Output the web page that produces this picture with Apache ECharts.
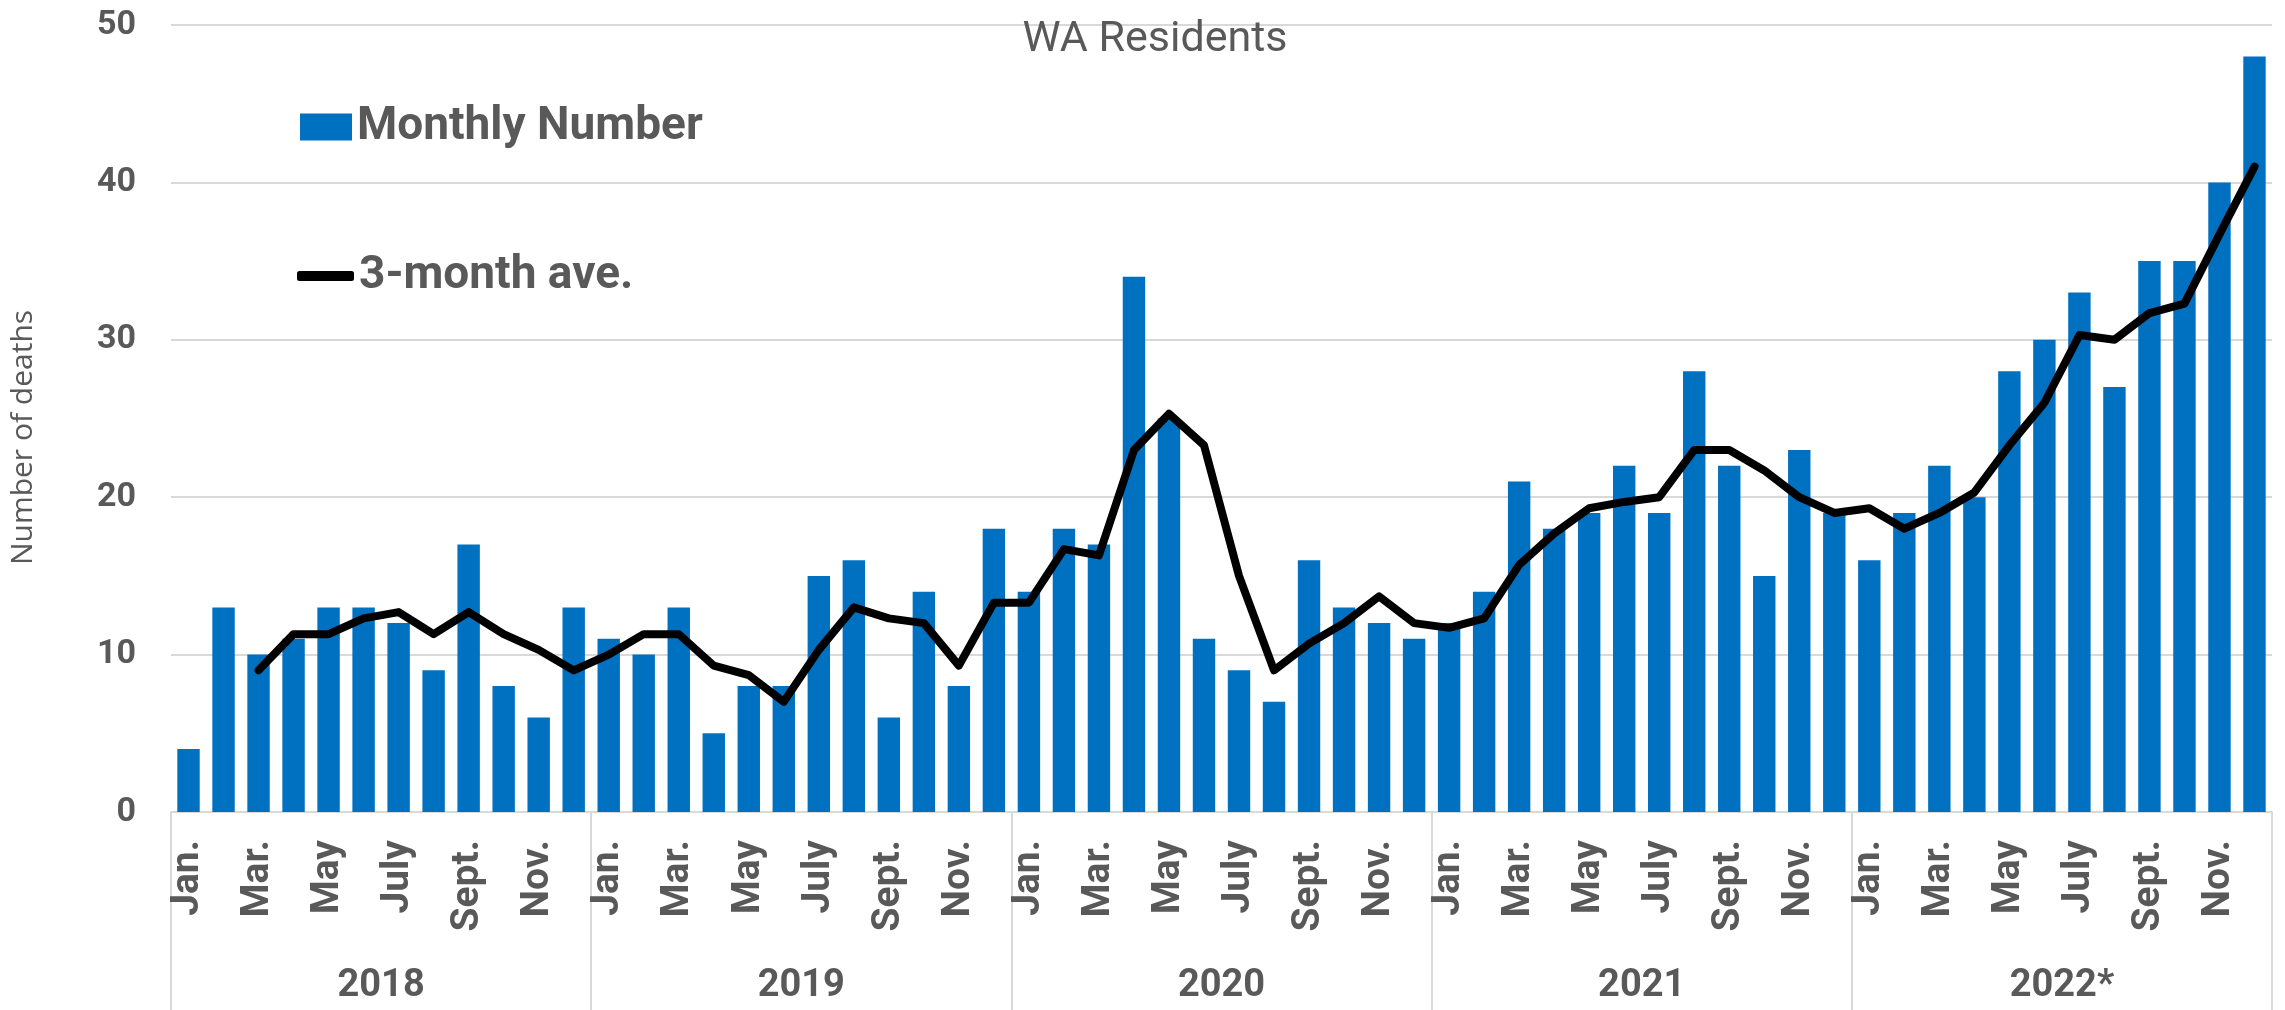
<!DOCTYPE html>
<html>
<head>
<meta charset="utf-8">
<title>WA Residents</title>
<script src="https://cdn.jsdelivr.net/npm/echarts@6/dist/echarts.min.js"></script>
<style>
html, body { margin: 0; padding: 0; background: #fff; }
#chart { width: 2285px; height: 1010px; }
</style>
</head>
<body>
<div id="chart"></div>
<script>
// 数据
var monthNames = ['Jan.', 'Feb.', 'Mar.', 'Apr.', 'May', 'June', 'July', 'Aug.', 'Sept.', 'Oct.', 'Nov.', 'Dec.'];
var years = ['2018', '2019', '2020', '2021', '2022*'];

var monthly2018 = [4, 13, 10, 11, 13, 13, 12, 9, 17, 8, 6, 13];
var monthly2019 = [11, 10, 13, 5, 8, 8, 15, 16, 6, 14, 8, 18];
var monthly2020 = [14, 18, 17, 34, 25, 11, 9, 7, 16, 13, 12, 11];
var monthly2021 = [12, 14, 21, 18, 19, 22, 19, 28, 22, 15, 23, 19];
var monthly2022 = [16, 19, 22, 20, 28, 30, 33, 27, 35, 35, 40, 48];

var ave2018 = ['-', '-', 9, 11.3, 11.3, 12.3, 12.7, 11.3, 12.7, 11.3, 10.3, 9];
var ave2019 = [10, 11.3, 11.3, 9.3, 8.7, 7, 10.3, 13, 12.3, 12, 9.3, 13.3];
var ave2020 = [13.3, 16.7, 16.3, 23, 25.3, 23.3, 15, 9, 10.7, 12, 13.7, 12];
var ave2021 = [11.7, 12.3, 15.7, 17.7, 19.3, 19.7, 20, 23, 23, 21.7, 20, 19];
var ave2022 = [19.3, 18, 19, 20.3, 23.3, 26, 30.3, 30, 31.7, 32.3, 36.7, 41];

var yTicks = [0, 10, 20, 30, 40, 50];

(function(){

var chart = echarts.init(document.getElementById('chart'));

var months = [];
years.forEach(function(){ months = months.concat(monthNames); });
var monthly = [].concat(monthly2018, monthly2019, monthly2020, monthly2021, monthly2022);
var ave = [].concat(ave2018, ave2019, ave2020, ave2021, ave2022);

var gray = '#595959';
var lineGray = '#d9d9d9';

option = {
    backgroundColor: '#fff',
    textStyle: { fontFamily: 'Roboto' },
    title: {
        text: 'WA Residents',
        left: 1150,
        textAlign: 'center',
        top: 14,
        textStyle: { fontFamily: 'Roboto', fontWeight: 'normal', fontSize: 43, color: gray }
    },
    legend: [
        {
            data: [{ name: 'Monthly Number', icon: 'rect' }],
            left: 295,
            top: 99,
            itemWidth: 52,
            itemHeight: 27,
            itemGap: 5,
            selectedMode: false,
            textStyle: { fontFamily: 'Roboto', fontWeight: 'bold', fontSize: 46, color: gray }
        },
        {
            data: [{ name: '3-month ave.', icon: 'roundRect', itemStyle: { color: '#000', borderWidth: 0 } }],
            left: 292,
            top: 248,
            itemWidth: 57,
            itemHeight: 10,
            selectedMode: false,
            textStyle: { fontFamily: 'Roboto', fontWeight: 'bold', fontSize: 46, color: gray }
        }
    ],
    grid: {
        left: 160,
        right: 13,
        top: 25,
        bottom: 198,
        containLabel: false
    },
    xAxis: [
        {
            type: 'category',
            data: months,
            axisLine: { lineStyle: { color: lineGray, width: 2 } },
            axisTick: { show: false },
            axisLabel: {
                interval: 1,
                rotate: 90,
                margin: 28,
                fontFamily: 'Roboto',
                fontWeight: 'bold',
                fontSize: 39,
                color: gray
            }
        },
        {
            type: 'category',
            data: years,
            position: 'bottom',
            axisLine: { show: false },
            axisTick: { show: true, interval: 0, length: 200, lineStyle: { color: lineGray, width: 2 } },
            axisLabel: {
                interval: 0,
                margin: 155,
                fontFamily: 'Roboto',
                fontWeight: 'bold',
                fontSize: 38,
                color: gray
            }
        }
    ],
    yAxis: {
        type: 'value',
        min: yTicks[0],
        max: yTicks[yTicks.length - 1],
        interval: 10,
        name: 'Number of deaths',
        nameLocation: 'middle',
        nameGap: 133,
        nameTextStyle: { fontFamily: 'Open Sans', fontSize: 30, color: gray, padding: [0, 38, 0, 0] },
        axisLine: { show: false },
        axisTick: { show: false },
        axisLabel: { margin: 35, fontFamily: 'Roboto', fontWeight: 'bold', fontSize: 34, color: gray },
        splitLine: { lineStyle: { color: lineGray, width: 2 } }
    },
    series: [
        {
            name: 'Monthly Number',
            type: 'bar',
            barWidth: '64%',
            itemStyle: { color: '#0070C0' },
            data: monthly
        },
        {
            name: '3-month ave.',
            type: 'line',
            symbol: 'none',
            lineStyle: { color: '#000', width: 8, join: 'round', cap: 'round' },
            itemStyle: { color: '#000' },
            data: ave
        }
    ]
};

chart.setOption(option);
})();
</script>
</body>
</html>
